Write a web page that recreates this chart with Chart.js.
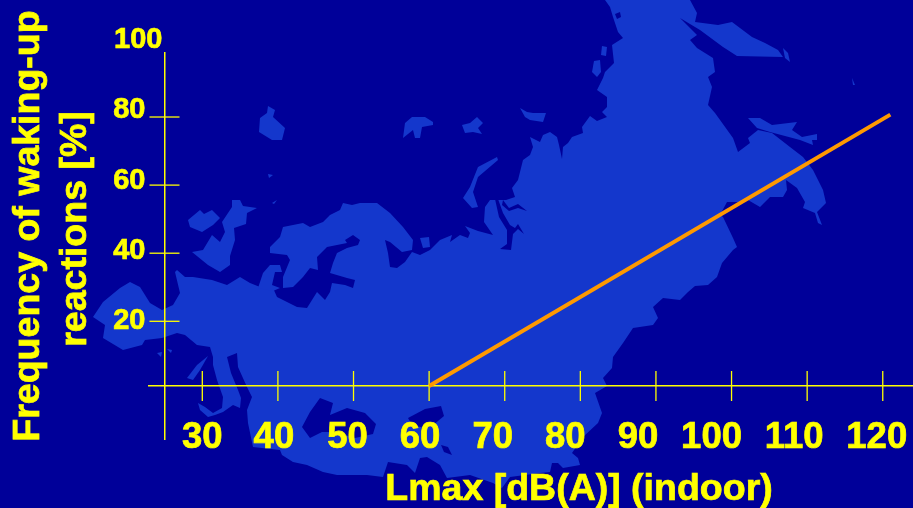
<!DOCTYPE html>
<html>
<head>
<meta charset="utf-8">
<script src="https://cdn.jsdelivr.net/npm/chart.js@4"></script>
<style>
  html, body { margin: 0; padding: 0; background: #000099; overflow: hidden; }
  canvas { display: block; }
</style>
</head>
<body>
<canvas id="chart" width="913" height="508"></canvas>
<script>
const xTicks = [30, 40, 50, 60, 70, 80, 90, 100, 110, 120];
const yTicks = [20, 40, 60, 80];
const yLabels = [20, 40, 60, 80, 100];
const lineX = [60, 121];
const lineY = [1, 80.7];
const xTitle = "Lmax [dB(A)] (indoor)";
const yTitle = ["Frequency of waking-up", "reactions [%]"];

// labels in the original don't sit exactly on their ticks
const xLabelShift = [0, -4, -6, -9, -12, -15, -18, -20, -13, -6];
const yLabelShiftY = [0, -2, -4, -7, -9];
const yLabelShiftX = [-19, -19, -19, -19, -2];

const BG = "#000099";
const LAND = "#1437CC";
const YELLOW = "#FFFF00";
const ORANGE = "#FF9900";

// background map, canvas pixels
const mapLand = [
  [[605,0],[610,7],[613,17],[614,20],[618,32],[623,38],[612,45],[614,63],[605,72],[603,78],[597,90],[607,97],[607,107],[602,112],[607,117],[597,121],[590,116],[582,127],[583,133],[572,137],[568,143],[563,147],[562,159],[559,145],[557,137],[550,132],[543,135],[540,142],[530,137],[533,147],[530,155],[523,160],[518,180],[512,188],[515,197],[506,200],[490,200],[485,207],[484,222],[493,235],[478,231],[465,226],[470,233],[468,238],[460,235],[450,242],[452,235],[440,240],[432,248],[430,250],[420,255],[412,252],[405,262],[397,268],[390,267],[388,253],[385,240],[390,242],[402,252],[412,250],[413,240],[403,227],[390,213],[377,203],[370,203],[360,203],[352,205],[343,203],[340,210],[330,215],[323,222],[310,227],[303,223],[283,227],[280,237],[270,247],[270,253],[287,255],[290,260],[283,277],[283,288],[293,287],[303,277],[310,268],[318,270],[317,257],[327,247],[347,243],[345,240],[353,235],[360,240],[358,245],[347,248],[337,253],[333,263],[330,273],[347,278],[355,280],[353,288],[345,285],[332,283],[330,292],[325,300],[317,292],[307,308],[297,307],[277,297],[273,288],[260,287],[250,283],[240,277],[227,285],[212,280],[193,277],[185,277],[177,270],[175,272],[180,293],[173,305],[162,310],[150,303],[140,287],[130,282],[120,288],[103,302],[93,317],[105,325],[103,338],[123,350],[142,345],[145,340],[162,338],[177,333],[185,335],[197,345],[210,347],[213,357],[213,365],[217,380],[223,397],[222,408],[213,413],[205,407],[198,403],[200,410],[208,417],[215,415],[223,412],[233,405],[240,408],[241,398],[238,390],[231,373],[227,357],[237,353],[238,367],[247,387],[252,397],[247,410],[248,423],[253,447],[280,450],[282,455],[293,462],[307,465],[323,472],[337,475],[367,475],[383,477],[388,462],[407,465],[415,473],[420,458],[427,457],[440,465],[447,478],[470,475],[493,483],[502,488],[510,477],[540,473],[550,472],[552,463],[558,463],[563,468],[580,465],[578,458],[572,453],[583,437],[598,423],[602,413],[595,393],[607,386],[603,378],[612,368],[613,357],[623,343],[633,328],[653,325],[658,318],[653,307],[663,298],[680,300],[688,292],[695,286],[708,285],[717,277],[722,263],[733,250],[737,247],[733,238],[723,217],[720,215],[727,202],[738,202],[748,200],[760,207],[770,197],[783,197],[787,190],[786,180],[797,188],[805,202],[803,208],[815,213],[818,223],[822,225],[817,212],[826,203],[823,190],[813,170],[803,157],[790,147],[772,133],[758,130],[748,138],[750,143],[738,152],[733,138],[715,113],[708,105],[712,87],[708,77],[715,72],[713,58],[697,48],[690,40],[697,35],[680,18],[700,30],[723,47],[737,56],[783,57],[778,50],[765,43],[752,37],[732,22],[718,25],[695,22],[697,13],[690,0]],
  [[258,288],[263,273],[270,265],[280,265],[282,272],[275,272],[272,285],[280,288],[273,291]],
  [[268,106],[275,110],[273,117],[285,128],[282,140],[272,140],[259,132],[260,118],[267,113]],
  [[268,174],[273,175],[269,178]],
  [[272,203],[277,200],[274,204]],
  [[188,220],[200,210],[204,214],[212,210],[220,218],[213,225],[202,232],[190,227]],
  [[232,200],[240,200],[243,206],[257,208],[247,213],[246,224],[234,228],[235,240],[230,256],[230,265],[220,272],[208,265],[192,252],[203,250],[212,235],[220,242],[225,232],[222,222],[228,213],[232,207]],
  [[405,123],[412,117],[425,117],[433,122],[433,125],[422,127],[420,138],[415,138],[413,130],[403,138]],
  [[462,125],[470,123],[477,117],[483,123],[478,128],[482,134],[473,132],[465,133]],
  [[520,108],[527,112],[533,113],[546,113],[543,122],[530,120],[525,117]],
  [[497,157],[498,160],[478,177],[473,192],[478,207],[472,208],[463,198],[470,187],[478,167]],
  [[602,46],[607,47],[606,56],[601,55]],
  [[594,61],[600,60],[601,72],[597,77],[592,72]],
  [[783,48],[788,53],[790,62],[785,58]],
  [[852,78],[855,85],[853,85]],
  [[748,118],[760,118],[772,125],[797,122],[792,130],[802,137],[817,134],[817,140],[812,140],[813,145],[800,140],[770,132],[757,128]],
  [[208,356],[197,365],[187,378],[193,380],[200,370]],
  [[157,353],[162,352],[161,357]],
  [[167,349],[172,350],[171,353]],
  [[420,238],[429,237],[430,247],[423,248]]
];
// seas and inlets cut back out of the land
const mapWater = [
  [[302,427],[310,412],[320,398],[333,403],[330,415],[347,408],[365,413],[376,424],[373,434],[355,438],[335,432],[322,432],[310,438]],
  [[408,418],[425,409],[441,406],[444,416],[432,426],[425,428],[412,425]],
  [[441,445],[448,447],[452,455],[444,452]],
  [[495,199],[498,199],[503,213],[510,225],[515,228],[518,224],[524,234],[518,229],[513,234],[511,250],[500,249],[507,244],[507,230],[499,217]],
  [[503,200],[509,208],[518,204],[527,211],[518,208],[509,211],[502,205]],
  [[615,14],[620,12],[621,17],[617,19]]
];

function fillShapes(ctx, shapes, color) {
  ctx.fillStyle = color;
  shapes.forEach((pts) => {
    ctx.beginPath();
    pts.forEach((p, i) => (i ? ctx.lineTo(p[0], p[1]) : ctx.moveTo(p[0], p[1])));
    ctx.closePath();
    ctx.fill();
  });
}

// the reference text is a touch heavier than plain bold
function boldText(ctx, text, x, y) {
  ctx.fillText(text, x, y);
  ctx.strokeText(text, x, y);
}

const mapBackground = {
  id: "mapBackground",
  beforeDraw(chart) {
    const ctx = chart.ctx;
    ctx.save();
    ctx.fillStyle = BG;
    ctx.fillRect(0, 0, chart.width, chart.height);
    fillShapes(ctx, mapLand, LAND);
    fillShapes(ctx, mapWater, BG);
    ctx.restore();
  },
};

// ticks cross the axes and the labels are offset, so they are drawn here from the scales
const crossTicks = {
  id: "crossTicks",
  beforeDatasetsDraw(chart) {
    const ctx = chart.ctx;
    const { x, y } = chart.scales;
    const axisX = x.getPixelForValue(25);
    const axisY = y.getPixelForValue(lineY[0]);

    ctx.save();
    ctx.strokeStyle = YELLOW;
    ctx.lineWidth = 1.3;
    xTicks.forEach((v) => {
      const px = x.getPixelForValue(v);
      ctx.beginPath();
      ctx.moveTo(px, axisY - 15);
      ctx.lineTo(px, axisY + 15);
      ctx.stroke();
    });
    yTicks.forEach((v) => {
      const py = y.getPixelForValue(v);
      ctx.beginPath();
      ctx.moveTo(axisX - 15, py);
      ctx.lineTo(axisX + 15, py);
      ctx.stroke();
    });
    ctx.restore();
  },
  afterDraw(chart) {
    const ctx = chart.ctx;
    const { x, y } = chart.scales;
    const axisX = x.getPixelForValue(25);
    const axisY = y.getPixelForValue(lineY[0]);

    ctx.save();
    ctx.fillStyle = YELLOW;
    ctx.strokeStyle = YELLOW;
    ctx.lineWidth = 0.7;
    ctx.textBaseline = "middle";

    ctx.font = "bold 36.5px 'Liberation Sans'";
    ctx.textAlign = "center";
    xTicks.forEach((v, i) => {
      boldText(ctx, String(v), x.getPixelForValue(v) + xLabelShift[i], axisY + 52);
    });

    ctx.font = "bold 29px 'Liberation Sans'";
    ctx.textAlign = "right";
    yLabels.forEach((v, i) => {
      boldText(ctx, String(v), axisX + yLabelShiftX[i], y.getPixelForValue(v) + yLabelShiftY[i]);
    });

    ctx.font = "bold 37.5px 'Liberation Sans'";
    ctx.textAlign = "center";
    boldText(ctx, xTitle, 579, 490);

    ctx.rotate(-Math.PI / 2);
    boldText(ctx, yTitle[0], -226, 29);
    boldText(ctx, yTitle[1], -229, 76);
    ctx.restore();
  },
};

new Chart(document.getElementById("chart"), {
  type: "line",
  data: {
    datasets: [
      {
        data: lineX.map((v, i) => ({ x: v, y: lineY[i] })),
        borderColor: ORANGE,
        borderWidth: 4,
        pointRadius: 0,
        tension: 0,
      },
    ],
  },
  options: {
    responsive: false,
    animation: false,
    layout: { padding: { left: 149, right: 0, top: 53, bottom: 69 } },
    plugins: { legend: { display: false }, tooltip: { enabled: false } },
    scales: {
      x: {
        type: "linear",
        min: 22.95,
        max: 124,
        position: { y: lineY[0] },
        grid: { display: false },
        border: { color: YELLOW, width: 1.5 },
        ticks: { display: false },
      },
      y: {
        type: "linear",
        min: -14.57,
        max: 98.8,
        position: { x: 25 },
        grid: { display: false },
        border: { color: YELLOW, width: 1.5 },
        ticks: { display: false },
      },
    },
  },
  plugins: [mapBackground, crossTicks],
});
</script>
</body>
</html>
